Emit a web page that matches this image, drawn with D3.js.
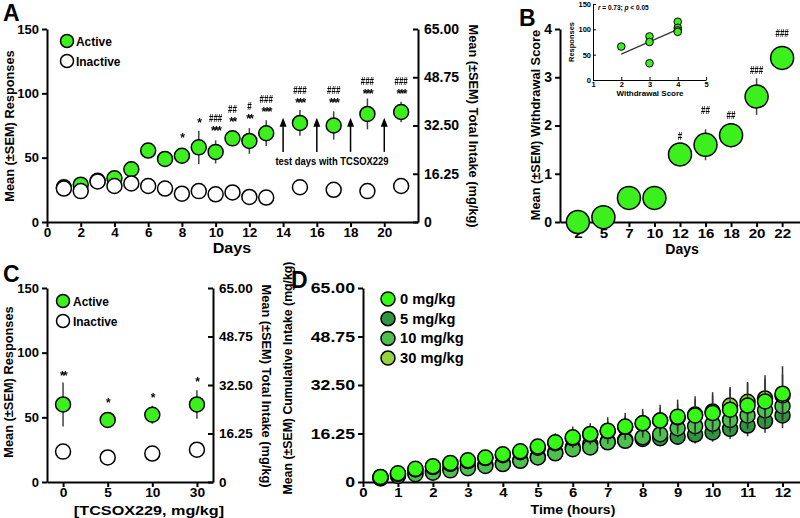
<!DOCTYPE html>
<html>
<head>
<meta charset="utf-8">
<script src="https://cdn.jsdelivr.net/npm/d3@7"></script>
<style>
body { margin: 0; background: #fff; }
svg text { font-family: "Liberation Sans", Arial, sans-serif; font-weight: bold; fill: #000; }
</style>
</head>
<body>
<script>
// ---- panel A: acquisition
const daysA = [1, 2, 3, 4, 5, 6, 7, 8, 9, 10, 11, 12, 13, 15, 17, 19, 21];
const activeA = [27, 29, 32, 34, 41, 55.5, 49, 51.5, 58, 54.5, 65, 63, 69, 77, 75, 84, 85.5];
const activeErrA = [2, 2, 2, 3, 4, 3, 3, 4, 13, 9, 5, 10, 10, 10, 11, 12, 8];
const inactiveA = [26, 24, 31.5, 28, 30, 28, 26, 22, 24, 21.5, 23, 19.5, 19, 27, 25, 24, 28];
const starsA = ["", "", "", "", "", "", "", "*", "*", "***", "**", "**", "***", "***", "***", "***", "***"];
const hashA = ["", "", "", "", "", "", "", "", "", "###", "##", "#", "###", "###", "###", "###", "###"];
const starLevelA = [0, 0, 0, 0, 0, 0, 0, 68, 79, 73, 80, 82, 88, 95, 95, 102, 102];
const arrowDaysA = [14, 16, 18, 20];
const ticksA = [0, 2, 4, 6, 8, 10, 12, 14, 16, 18, 20];

// ---- panel B: withdrawal
const daysB = ["2", "5", "7", "10", "12", "16", "18", "20", "22"];
const scoreB = [0, 0.1, 0.5, 0.5, 1.4, 1.6, 1.8, 2.6, 3.4];
const scoreErrB = [0, 0, 0, 0, 0.22, 0.32, 0.25, 0.38, 0.22];
const hashB = ["", "", "", "", "#", "##", "##", "###", "###"];
const hashLevelB = [0, 0, 0, 0, 1.78, 2.32, 2.21, 3.15, 3.9];

// inset: responses vs withdrawal score
const insetScore = [2, 3, 3, 3, 4, 4, 4, 4];
const insetResp = [66, 86, 75, 33, 115, 103, 98, 95];
const fitScore = [2, 4];
const fitResp = [51, 100];

// ---- panel C: TCSOX229 test
const dosesC = ["0", "5", "10", "30"];
const activeC = [60, 48, 52, 60];
const activeErrC = [17, 3, 7, 11];
const inactiveC = [23.5, 19, 22, 25];
const starsC = ["**", "*", "*", "*"];
const starLevelC = [84, 63.5, 67.5, 80];

// ---- panel D: cumulative intake
const hoursD = [0.5, 1, 1.5, 2, 2.5, 3, 3.5, 4, 4.5, 5, 5.5, 6, 6.5, 7, 7.5, 8, 8.5, 9, 9.5, 10, 10.5, 11, 11.5, 12];
const dose0 = [1.7, 2.9, 4.4, 5.3, 6.4, 7.3, 8.2, 9.3, 10.3, 11.9, 13.3, 15.0, 16.1, 17.2, 18.6, 19.7, 20.6, 21.9, 22.3, 23.1, 24.2, 25.6, 27.0, 29.6];
const dose0Err = [0.5, 0.6, 0.8, 0.9, 1.0, 1.1, 1.3, 1.5, 1.8, 2.5, 3.0, 3.6, 3.6, 4.5, 4.5, 4.8, 5.3, 5.7, 6.4, 7.0, 7.6, 7.9, 8.8, 9.2];
const dose5 = [1.5, 2.4, 3.1, 3.7, 4.6, 5.1, 5.7, 6.2, 7.3, 8.4, 9.9, 11.6, 12.7, 13.6, 14.1, 14.4, 14.7, 15.2, 15.9, 16.6, 17.8, 18.9, 20.4, 22.3];
const dose5Err = [0.3, 0.4, 0.5, 0.5, 0.7, 0.8, 0.8, 1.0, 1.1, 1.3, 1.5, 1.8, 1.9, 2.1, 2.2, 2.4, 2.5, 2.8, 3.0, 3.1, 3.4, 3.6, 3.9, 4.2];
const dose10 = [1.2, 2.0, 2.6, 3.1, 3.9, 4.6, 5.4, 6.0, 7.1, 8.2, 9.6, 11.0, 11.6, 13.3, 13.8, 15.0, 16.0, 18.0, 18.7, 19.5, 20.8, 22.3, 24.0, 25.4];
const dose10Err = [0.3, 0.4, 0.4, 0.6, 0.7, 0.7, 0.9, 1.0, 1.2, 1.3, 1.6, 1.9, 2.0, 2.3, 2.4, 2.6, 2.9, 3.1, 3.3, 3.5, 3.8, 4.0, 4.4, 4.7];
const dose30 = [1.6, 2.7, 4.2, 5.0, 6.1, 7.0, 8.0, 9.0, 10.0, 11.5, 13.0, 14.7, 15.9, 17.0, 18.4, 19.6, 20.6, 21.6, 22.6, 23.6, 25.6, 26.9, 28.0, 29.0];
const dose30Err = [0.4, 0.6, 0.7, 0.8, 1.0, 1.1, 1.2, 1.4, 1.6, 2.0, 2.4, 2.8, 3.0, 3.4, 3.6, 3.9, 4.2, 4.6, 5.0, 5.4, 5.8, 6.2, 6.6, 7.0];
const doseLabelsD = ["0 mg/kg", "5 mg/kg", "10 mg/kg", "30 mg/kg"];
const ticksD = [0, 1, 2, 3, 4, 5, 6, 7, 8, 9, 10, 11, 12];

const intakeTicks = [0, 16.25, 32.5, 48.75, 65];
const respTicks = [0, 50, 100, 150];

const green = "#3cf01e";
const doseColors = { "0 mg/kg": "#33fb14", "5 mg/kg": "#2f963f", "10 mg/kg": "#4cc24c", "30 mg/kg": "#95d43e" };
const fmtIntake = d => d === 0 ? "0" : d3.format(".2f")(d);

const svg = d3.select("body").append("svg")
    .attr("width", 800)
    .attr("height", 518);

// small significance marks go in a slightly translucent layer (grey antialiasing)
const marks = svg.append("g").attr("opacity", 0.999);

// widen or narrow text horizontally (the source figure is stretched)
function stretch(sel, sx) {
    sel.each(function () {
        const t = d3.select(this);
        const x = +t.attr("x") || 0;
        t.attr("x", x / sx).attr("transform", `scale(${sx},1)`);
    });
}

function styleAxis(g, size, sx) {
    g.attr("font-size", size);
    g.select(".domain").attr("stroke-width", 2);
    g.selectAll(".tick line").attr("stroke-width", 2);
    if (sx) stretch(g.selectAll(".tick text"), sx);
}

function label(x, y, text, size, opts = {}) {
    const t = (opts.parent || svg).append("text")
        .attr("x", x)
        .attr("y", y)
        .attr("font-size", size)
        .attr("text-anchor", opts.anchor || "middle")
        .text(text);
    if (opts.rotate) t.attr("transform", `rotate(${opts.rotate},${x},${y})`);
    if (opts.sx) stretch(t, opts.sx);
    if (opts.spacing) t.attr("letter-spacing", opts.spacing);
    return t;
}

function errorBars(g, data, x, y, color) {
    g.selectAll(null)
        .data(data.filter(d => d.e > 0))
        .join("line")
        .attr("x1", d => x(d.k))
        .attr("x2", d => x(d.k))
        .attr("y1", d => y(d.v - d.e))
        .attr("y2", d => y(d.v + d.e))
        .attr("stroke", color || "#444")
        .attr("stroke-width", 1.5);
}

function dots(g, data, x, y, r, fill, sw) {
    g.selectAll(null)
        .data(data)
        .join("circle")
        .attr("cx", d => x(d.k))
        .attr("cy", d => y(d.v))
        .attr("r", r)
        .attr("fill", fill)
        .attr("stroke", "#000")
        .attr("stroke-width", sw || 1.5);
}

// ================= A =================
const xA = d3.scaleLinear().domain([0, 22]).range([47, 418]);
const yA = d3.scaleLinear().domain([0, 150]).range([222, 29]);
const yAR = d3.scaleLinear().domain([0, 65]).range([222, 29]);

svg.append("g").attr("transform", "translate(0,222)")
    .call(d3.axisBottom(xA).tickValues(ticksA).tickSize(5).tickSizeOuter(0).tickPadding(1))
    .call(g => styleAxis(g, 12.5, 1.08));
svg.append("g").attr("transform", "translate(47,0)")
    .call(d3.axisLeft(yA).tickValues(respTicks).tickSize(5).tickSizeOuter(0))
    .call(g => styleAxis(g, 13));
svg.append("g").attr("transform", "translate(418,0)")
    .call(d3.axisRight(yAR).tickValues(intakeTicks).tickFormat(fmtIntake).tickSizeInner(-5).tickSizeOuter(0).tickPadding(6))
    .call(g => styleAxis(g, 14));

const gA = svg.append("g");
const actA = daysA.map((k, i) => ({ k, v: activeA[i], e: activeErrA[i] }));
const inaA = daysA.map((k, i) => ({ k, v: inactiveA[i], e: 0 }));
errorBars(gA, actA, xA, yA);
dots(gA, actA, xA, yA, 7.5, green);
dots(gA, inaA, xA, yA, 7.5, "#fff");

daysA.forEach((d, i) => {
    if (starsA[i]) label(xA(d), yA(starLevelA[i]) + 7, starsA[i], 12, { spacing: -1.5, parent: marks });
    if (hashA[i]) label(xA(d), yA(starLevelA[i] + 7.5) + 3.5, hashA[i], 10, { sx: 0.8, parent: marks });
});

arrowDaysA.forEach(d => {
    svg.append("line")
        .attr("x1", xA(d)).attr("x2", xA(d))
        .attr("y1", yA(54.5)).attr("y2", yA(75))
        .attr("stroke", "#000").attr("stroke-width", 1.5);
    svg.append("path")
        .attr("d", `M${xA(d)},${yA(81)} L${xA(d) - 3.5},${yA(81) + 9} L${xA(d) + 3.5},${yA(81) + 9} Z`)
        .attr("fill", "#000");
});
label(xA(16.9), yA(44), "test days with TCSOX229", 11.5, { sx: 0.82 });

svg.append("circle").attr("cx", 67).attr("cy", 41).attr("r", 6.5).attr("fill", green).attr("stroke", "#000").attr("stroke-width", 1.5);
svg.append("circle").attr("cx", 67).attr("cy", 61).attr("r", 6.5).attr("fill", "#fff").attr("stroke", "#000").attr("stroke-width", 1.5);
label(76, 46, "Active", 13, { anchor: "start", sx: 0.92 });
label(76, 66, "Inactive", 13, { anchor: "start", sx: 0.92 });

label(232, 253, "Days", 14, { sx: 1.15 });
label(14, 126, "Mean (±SEM) Responses", 12.8, { rotate: -90 });
label(469, 126, "Mean (±SEM) Total Intake (mg/kg)", 12.8, { rotate: 90 });
label(3, 21, "A", 23, { anchor: "start" });

// ================= B =================
const xB = d3.scalePoint().domain(daysB).range([560, 800]).padding(0.7);
const yB = d3.scaleLinear().domain([0, 4]).range([222, 29]);

svg.append("g").attr("transform", "translate(0,222)")
    .call(d3.axisBottom(xB).tickSize(5).tickSizeOuter(0).tickPadding(1))
    .call(g => styleAxis(g, 13.5, 1.12));
svg.append("g").attr("transform", "translate(560,0)")
    .call(d3.axisLeft(yB).ticks(4).tickSize(5).tickSizeOuter(0))
    .call(g => styleAxis(g, 14));

const gB = svg.append("g");
const ptsB = daysB.map((k, i) => ({ k, v: scoreB[i], e: scoreErrB[i] }));
errorBars(gB, ptsB, xB, yB);
dots(gB, ptsB, xB, yB, 11.5, green);
daysB.forEach((d, i) => {
    if (hashB[i]) label(xB(d), yB(hashLevelB[i]) + 3.5, hashB[i], 10, { sx: 0.8, parent: marks });
});

label(682, 254, "Days", 14);
label(540, 125, "Mean (±SEM) Withdrawal Score", 12.8, { rotate: -90 });
label(519, 26, "B", 23, { anchor: "start" });

// inset
const xI = d3.scaleLinear().domain([1, 5]).range([593, 706]);
const yI = d3.scaleLinear().domain([0, 150]).range([80, 4]);
svg.append("g").attr("transform", "translate(0,80)")
    .call(d3.axisBottom(xI).ticks(4).tickSizeInner(-3).tickSizeOuter(0).tickPadding(2))
    .call(g => g.attr("font-size", 7.5));
svg.append("g").attr("transform", "translate(593,0)")
    .call(d3.axisLeft(yI).tickValues(respTicks).tickSizeInner(-3).tickSizeOuter(0).tickPadding(2))
    .call(g => g.attr("font-size", 7.5));
svg.append("line")
    .attr("x1", xI(fitScore[0])).attr("y1", yI(fitResp[0]))
    .attr("x2", xI(fitScore[1])).attr("y2", yI(fitResp[1]))
    .attr("stroke", "#333").attr("stroke-width", 1.2);
svg.append("g").selectAll("circle")
    .data(insetScore.map((k, i) => ({ k, v: insetResp[i] })))
    .join("circle")
    .attr("cx", d => xI(d.k))
    .attr("cy", d => yI(d.v))
    .attr("r", 3.8)
    .attr("fill", green)
    .attr("stroke", "#000")
    .attr("stroke-width", 1);
const rt = svg.append("text").attr("x", 598).attr("y", 10).attr("font-size", 6.5);
rt.append("tspan").attr("font-style", "italic").text("r");
rt.append("tspan").text(" = 0.73; ");
rt.append("tspan").attr("font-style", "italic").text("p");
rt.append("tspan").text(" < 0.05");
label(650, 96, "Withdrawal Score", 8);
label(574, 42, "Responses", 7.5, { rotate: -90 });

// ================= C =================
const xC = d3.scalePoint().domain(dosesC).range([47, 213]).padding(0.36);
const yC = d3.scaleLinear().domain([0, 150]).range([482, 288]);
const yCR = d3.scaleLinear().domain([0, 65]).range([482, 288]);

svg.append("g").attr("transform", "translate(0,482)")
    .call(d3.axisBottom(xC).tickSize(5).tickSizeOuter(0).tickPadding(1))
    .call(g => styleAxis(g, 12.5, 1.1));
svg.append("g").attr("transform", "translate(47,0)")
    .call(d3.axisLeft(yC).tickValues(respTicks).tickSize(5).tickSizeOuter(0))
    .call(g => styleAxis(g, 13));
svg.append("g").attr("transform", "translate(213,0)")
    .call(d3.axisRight(yCR).tickValues(intakeTicks).tickFormat(fmtIntake).tickSizeInner(-5).tickSizeOuter(0).tickPadding(6))
    .call(g => styleAxis(g, 13.5));

const gC = svg.append("g");
const actC = dosesC.map((k, i) => ({ k, v: activeC[i], e: activeErrC[i] }));
const inaC = dosesC.map((k, i) => ({ k, v: inactiveC[i], e: 0 }));
errorBars(gC, actC, xC, yC);
dots(gC, actC, xC, yC, 7.5, green);
dots(gC, inaC, xC, yC, 7.5, "#fff");
dosesC.forEach((d, i) => label(xC(d), yC(starLevelC[i]) + 7, starsC[i], 12, { spacing: -1.5, parent: marks }));

svg.append("circle").attr("cx", 63).attr("cy", 301).attr("r", 6.5).attr("fill", green).attr("stroke", "#000").attr("stroke-width", 1.5);
svg.append("circle").attr("cx", 63).attr("cy", 321).attr("r", 6.5).attr("fill", "#fff").attr("stroke", "#000").attr("stroke-width", 1.5);
label(73, 306, "Active", 13, { anchor: "start", sx: 0.92 });
label(73, 326, "Inactive", 13, { anchor: "start", sx: 0.92 });

label(149, 515, "[TCSOX229, mg/kg]", 13.5, { sx: 1.2 });
label(13, 382, "Mean (±SEM) Responses", 12.8, { rotate: -90 });
label(262, 386, "Mean (±SEM) Total Intake (mg/kg)", 12.8, { rotate: 90 });
label(3, 282, "C", 23, { anchor: "start" });

// ================= D =================
const xD = d3.scaleLinear().domain([0, 12.5]).range([363, 800]);
const yD = d3.scaleLinear().domain([0, 65]).range([482, 288]);

svg.append("g").attr("transform", "translate(0,482)")
    .call(d3.axisBottom(xD).tickValues(ticksD).tickSize(5).tickSizeOuter(0).tickPadding(1))
    .call(g => styleAxis(g, 13, 1.15));
svg.append("g").attr("transform", "translate(363,0)")
    .call(d3.axisLeft(yD).tickValues(intakeTicks).tickFormat(fmtIntake).tickSize(5).tickSizeOuter(0))
    .call(g => styleAxis(g, 14.5, 1.22));

const seriesD = [
    { name: "5 mg/kg", vals: dose5, errs: dose5Err },
    { name: "10 mg/kg", vals: dose10, errs: dose10Err },
    { name: "30 mg/kg", vals: dose30, errs: dose30Err },
    { name: "0 mg/kg", vals: dose0, errs: dose0Err }
];
seriesD.forEach(s => {
    const g = svg.append("g");
    const pts = hoursD.map((k, i) => ({ k, v: s.vals[i], e: s.errs[i] }));
    errorBars(g, pts, xD, yD, "#333");
    dots(g, pts, xD, yD, 7.5, doseColors[s.name]);
});

doseLabelsD.forEach((name, i) => {
    svg.append("circle")
        .attr("cx", 388).attr("cy", 299 + i * 19.7).attr("r", 7)
        .attr("fill", doseColors[name]).attr("stroke", "#000").attr("stroke-width", 1.5);
    label(400, 304 + i * 19.7, name, 14, { anchor: "start", sx: 1.05 });
});

label(573, 514, "Time (hours)", 13.5, { sx: 1.04 });
label(292, 378, "Mean (±SEM) Cumulative Intake (mg/kg)", 12.3, { rotate: -90 });
label(291, 288, "D", 23, { anchor: "start" });

marks.raise();
</script>
</body>
</html>
